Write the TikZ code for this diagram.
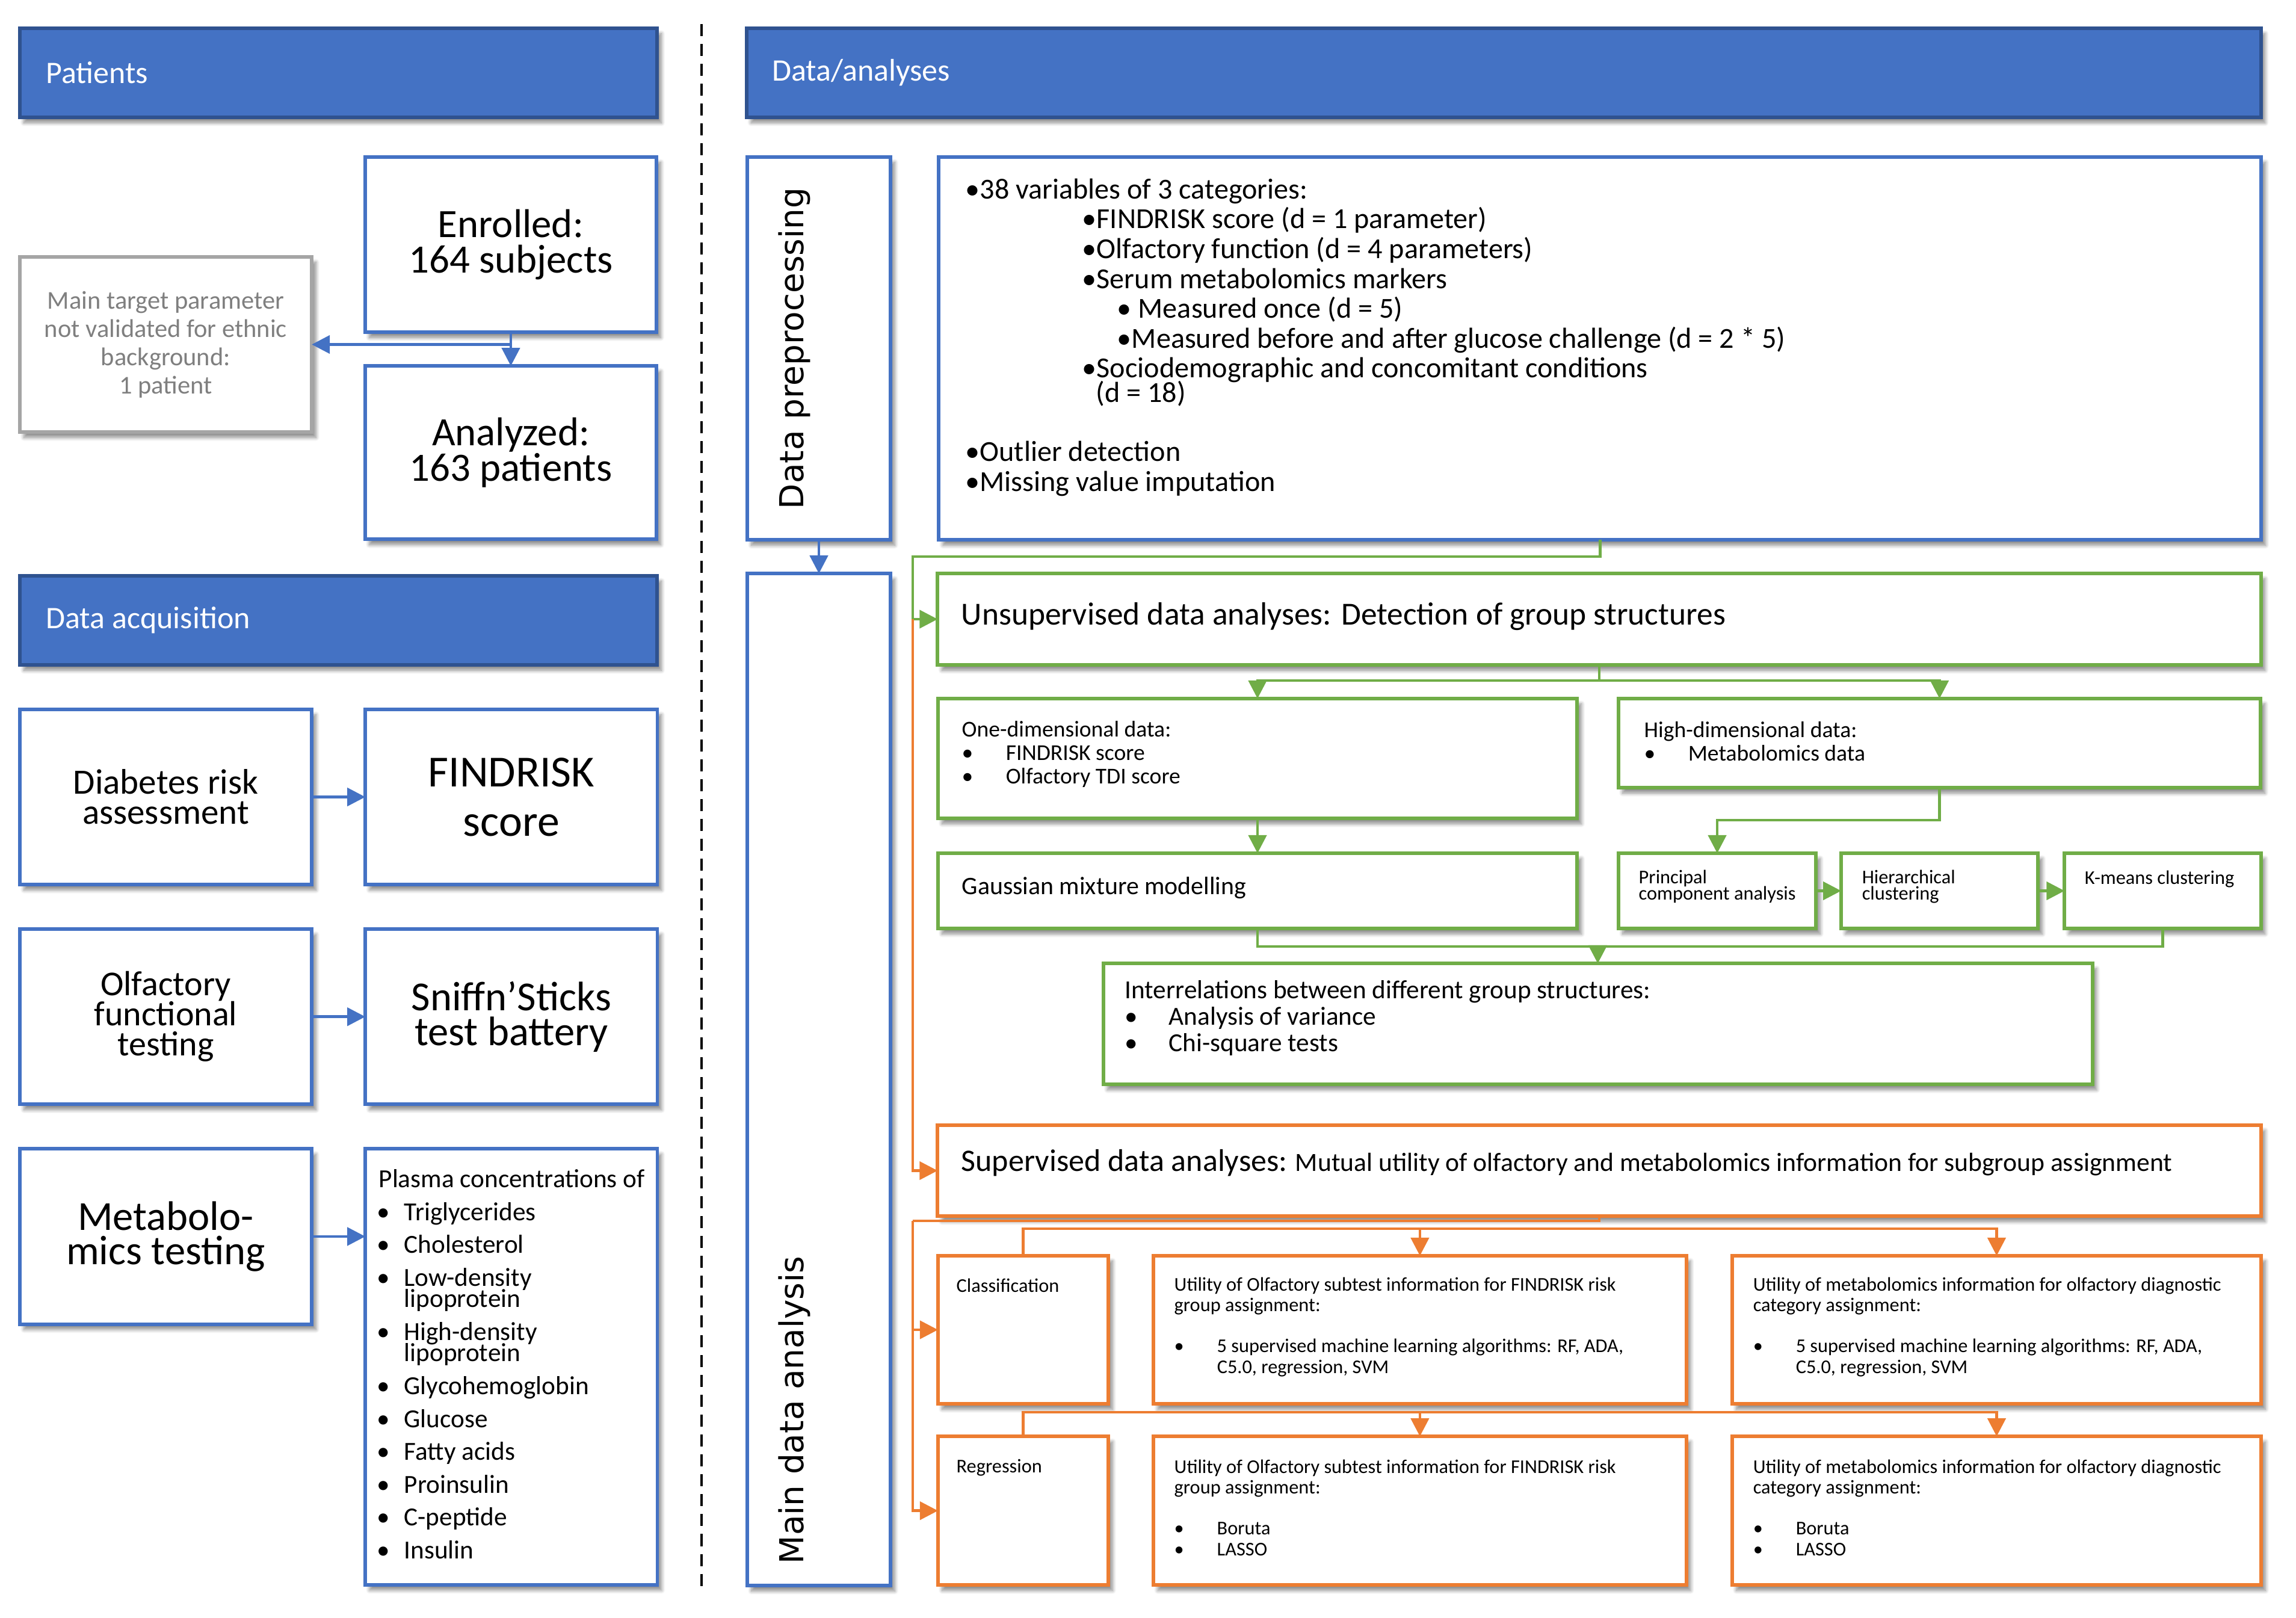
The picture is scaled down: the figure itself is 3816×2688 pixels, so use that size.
\documentclass[tikz,border=0pt]{standalone}
\usepackage{fontspec}
\setmainfont{Carlito}
\newfontfamily\sidefont{DejaVu Sans}
\usetikzlibrary{arrows.meta,positioning,shadows.blur}
\definecolor{hdrblue}{HTML}{4472C4}
\definecolor{hdrline}{HTML}{2F528F}
\definecolor{boxblue}{HTML}{4472C4}
\definecolor{boxgreen}{HTML}{70AD47}
\definecolor{boxorange}{HTML}{ED7D31}
\definecolor{boxgray}{HTML}{A5A5A5}
\definecolor{txtgray}{HTML}{7F7F7F}
\newcommand{\itembul}[1]{\makebox[#1][l]{•}}
\newcommand{\setfs}[2]{\fontsize{#1}{#2}\selectfont}
\lineskiplimit=-100pt

\begin{document}
\begin{tikzpicture}
	[x=0.01cm, y=-0.01cm, inner sep=0pt,
	boxshadow/.style	= {blur shadow={shadow xshift=0.07cm, shadow yshift=-0.09cm, shadow blur steps=8, shadow blur radius=0.06cm, shadow opacity=45}},
	hdr/.style			= {draw=hdrline, fill=hdrblue, line width=1.7pt, outer sep=0pt, minimum width=10.59cm, minimum height=1.48cm, boxshadow},
	hdrtext/.style		= {white, font=\setfs{14.8}{17}},
	box/.style			= {draw=boxblue, fill=white, line width=1.7pt, outer sep=0pt, align=center, boxshadow},
	gbox/.style			= {box, draw=boxgreen},
	obox/.style			= {box, draw=boxorange},
	xbox/.style			= {box, draw=boxgray, text=txtgray},
	cell/.style			= {minimum width=4.85cm, minimum height=2.91cm},
	txt/.style			= {anchor=base west, align=left},
	sidetext/.style		= {rotate=90, font=\sidefont\setfs{15.6}{18}},
	link/.style			= {line width=1.3pt, -{Triangle[length=0.3cm, width=0.3cm]}},
	blink/.style		= {link, draw=boxblue},
	glink/.style		= {link, draw=boxgreen},
	olink/.style		= {link, draw=boxorange},
	divider/.style		= {draw=black, line width=1.1pt, dash pattern=on 0.2cm off 0.13cm}]

	\useasboundingbox (0,0) rectangle (3816,2688);

	% patients
	\node [hdr]		at (562.5,121)					(hpat)	{};
	\node [hdrtext]	[right=0.43cm of hpat.west]		(tpat)	{Patients};
	\node [box, minimum width=4.84cm, minimum height=2.91cm, font=\setfs{19}{16.8}]	at (849,406.5)	(enr)	{Enrolled:\\164 subjects};
	\node [box, minimum width=4.84cm, minimum height=2.88cm, font=\setfs{19}{16.8}]	[below=0.56cm of enr]	(ana)	{Analyzed:\\163 patients};
	\node [xbox, cell, font=\setfs{12.1}{13.4}]	at (275.5,572.5)	(excl)	{Main target parameter\\not validated for ethnic\\background:\\1 patient};
	\coordinate (esplit) at (enr.south |- excl.east);

	% data acquisition
	\node [hdr]		at (562.5,1031)					(hacq)	{};
	\node [hdrtext]	[right=0.43cm of hacq.west]		(tacq)	{Data acquisition};
	\node [box, cell, font=\setfs{16.8}{14.2}]	at (275.5,1324.5)			(diab)	{Diabetes risk\\assessment};
	\node [box, cell, font=\setfs{21}{23.3}]	[right=0.89cm of diab]		(find)	{FINDRISK\\score};
	\node [box, cell, font=\setfs{16.5}{14.2}]	[below=0.74cm of diab]		(olf)	{Olfactory\\functional\\testing};
	\node [box, cell, font=\setfs{19.5}{16.5}]	[right=0.89cm of olf]		(sniff)	{Sniffn’Sticks\\test battery};
	\node [box, cell, font=\setfs{19.5}{16.2}]	[below=0.74cm of olf]		(metab)	{Metabolo-\\mics testing};
	\node [box, minimum width=4.85cm, minimum height=7.24cm]	[right=0.89cm of metab.north east, anchor=north west]	(plasma)	{};
	\node [txt, font=\setfs{12.3}{15.5}]	at (626,2590)	(tplasma)	{\hspace*{0.03cm}Plasma concentrations of\\
		\itembul{0.45cm}Triglycerides\\
		\itembul{0.45cm}Cholesterol\\
		\itembul{0.45cm}Low-density\\[-5.4pt]
		\hspace*{0.45cm}lipoprotein\\
		\itembul{0.45cm}High-density\\[-5.4pt]
		\hspace*{0.45cm}lipoprotein\\
		\itembul{0.45cm}Glycohemoglobin\\
		\itembul{0.45cm}Glucose\\
		\itembul{0.45cm}Fatty acids\\
		\itembul{0.45cm}Proinsulin\\
		\itembul{0.45cm}C-peptide\\
		\itembul{0.45cm}Insulin};

	\draw [divider] (1166,40) -- (1166,2645);

	% data/analyses
	\node [hdr, minimum width=25.15cm]	at (2499.5,121)		(hdat)	{};
	\node [hdrtext]	[right=0.41cm of hdat.west]			(tdat)	{Data/analyses};
	\node [box, minimum width=2.38cm, minimum height=6.36cm]	at (1361,579)			(prep)	{};
	\node [sidetext]	at (1320,579)										(tprep)	{Data preprocessing};
	\node [box, minimum width=21.97cm, minimum height=6.36cm]	[right=0.8cm of prep]	(pre)	{};
	\node [txt, font=\setfs{13.7}{14.1}]	at (1604,816)	(tpre)	{•38 variables of 3 categories:\\
		\hspace*{1.94cm}•FINDRISK score (d = 1 parameter)\\
		\hspace*{1.94cm}•Olfactory function (d = 4 parameters)\\
		\hspace*{1.94cm}•Serum metabolomics markers\\
		\hspace*{2.52cm}• Measured once (d = 5)\\
		\hspace*{2.52cm}•Measured before and after glucose challenge (d = 2 * 5)\\
		\hspace*{1.94cm}•Sociodemographic and concomitant conditions\\[-2.6pt]
		\hspace*{2.17cm}(d = 18)\\[13.8pt]
		•Outlier detection\\
		•Missing value imputation};
	\node [box, minimum width=2.38cm, minimum height=16.81cm]	[below=0.56cm of prep]	(mda)	{};
	\node [sidetext, anchor=west]	at (1320,2600)							(tmda)	{Main data analysis};

	% unsupervised
	\node [gbox, minimum width=21.98cm, minimum height=1.52cm]	at (2658,1029)		(unsup)	{};
	\node [txt, font=\setfs{15.2}{17}]	at (1597,1038)		(tunsup)	{Unsupervised data analyses: Detection of group structures};
	\node [gbox, minimum width=10.62cm, minimum height=1.99cm]	at (2090,1260.5)	(onedim)	{};
	\node [txt, font=\setfs{10.7}{11}]	at (1598,1302)		(tonedim)	{One-dimensional data:\\
		\itembul{0.73cm}FINDRISK score\\
		\itembul{0.73cm}Olfactory TDI score};
	\node [gbox, minimum width=10.67cm, minimum height=1.48cm]	at (3223.5,1235)	(highdim)	{};
	\node [txt, font=\setfs{10.7}{11}]	at (2732,1264)		(thighdim)	{High-dimensional data:\\
		\itembul{0.73cm}Metabolomics data};
	\node [gbox, minimum width=10.62cm, minimum height=1.25cm]	at (2090,1480.5)	(gmm)	{};
	\node [txt, font=\setfs{11.9}{14}]		at (1598,1486)		(tgmm)	{Gaussian mixture modelling};
	\node [gbox, minimum width=3.28cm, minimum height=1.25cm]	at (2854,1480.5)	(pca)	{};
	\node [gbox, minimum width=3.27cm, minimum height=1.25cm]	[right=0.42cm of pca]	(hier)	{};
	\node [gbox, minimum width=3.26cm, minimum height=1.25cm]	[right=0.44cm of hier]	(kmeans)	{};
	\node [txt, font=\setfs{9.2}{7.5}]	at (2723,1495)		(tpca)	{Principal\\component analysis};
	\node [txt, font=\setfs{9.2}{7.5}]	at (3094,1495)		(thier)	{Hierarchical\\clustering};
	\node [txt, font=\setfs{9.2}{7.5}]	at (3464,1469)		(tkmeans)	{K-means clustering};
	\node [gbox, minimum width=16.43cm, minimum height=2.01cm]	at (2655.5,1701.5)	(inter)	{};
	\node [txt, font=\setfs{12.3}{12.4}]	at (1869,1747)		(tinter)	{Interrelations between different group structures:\\
		\itembul{0.73cm}Analysis of variance\\
		\itembul{0.73cm}Chi-square tests};

	% supervised
	\node [obox, minimum width=21.98cm, minimum height=1.51cm]	at (2658,1945.5)	(sup)	{};
	\node [txt, font=\setfs{12.4}{15}]	at (1597,1946)		(tsup)	{{\setfs{14.8}{17}Supervised data analyses:} Mutual utility of olfactory and metabolomics information for subgroup assignment};
	\node [obox, minimum width=2.83cm, minimum height=2.46cm]	at (1700.5,2210)		(class)	{};
	\node [obox, minimum width=8.85cm, minimum height=2.46cm]	[right=0.75cm of class]	(cu1)	{};
	\node [obox, minimum width=8.79cm, minimum height=2.46cm]	[right=0.76cm of cu1]	(cu2)	{};
	\node [obox, minimum width=2.83cm, minimum height=2.47cm]	[below=0.54cm of class]	(regr)	{};
	\node [obox, minimum width=8.85cm, minimum height=2.47cm]	[right=0.75cm of regr]	(ru1)	{};
	\node [obox, minimum width=8.79cm, minimum height=2.47cm]	[right=0.76cm of ru1]	(ru2)	{};
	\node [txt, font=\setfs{9.2}{9.7}]	at (1589,2147)	(tclass)	{Classification};
	\node [txt, font=\setfs{9.2}{9.7}]	at (1951,2282)	(tcu1)	{Utility of Olfactory subtest information for FINDRISK risk\\
		group assignment:\\[9.7pt]
		\itembul{0.71cm}5 supervised machine learning algorithms: RF, ADA,\\
		\hspace*{0.71cm}C5.0, regression, SVM};
	\node [txt, font=\setfs{9.2}{9.7}]	at (2913,2282)	(tcu2)	{Utility of metabolomics information for olfactory diagnostic\\
		category assignment:\\[9.7pt]
		\itembul{0.71cm}5 supervised machine learning algorithms: RF, ADA,\\
		\hspace*{0.71cm}C5.0, regression, SVM};
	\node [txt, font=\setfs{9.2}{9.7}]	at (1589,2447)	(tregr)	{Regression};
	\node [txt, font=\setfs{9.2}{9.7}]	at (1951,2585)	(tru1)	{Utility of Olfactory subtest information for FINDRISK risk\\
		group assignment:\\[9.7pt]
		\itembul{0.71cm}Boruta\\
		\itembul{0.71cm}LASSO};
	\node [txt, font=\setfs{9.2}{9.7}]	at (2913,2585)	(tru2)	{Utility of metabolomics information for olfactory diagnostic\\
		category assignment:\\[9.7pt]
		\itembul{0.71cm}Boruta\\
		\itembul{0.71cm}LASSO};

	\coordinate (gsplit) at (1517,1029);
	\coordinate (osplit) at (1517,2029);

	% left connectors
	\draw [blink] (enr) -- (ana);
	\draw [blink] (esplit) -- (excl.east);
	\draw [blink] (diab) -- (find);
	\draw [blink] (olf) -- (sniff);
	\draw [blink] (metab.east) -- (metab.east -| plasma.west);

	% right connectors
	\draw [blink] (prep) -- (mda);
	\draw [glink] (pre.south) -- ++(0,28) -| (gsplit) -- (unsup.west);
	\draw [olink] (gsplit) |- (sup.west);
	\draw [glink] (unsup.south) -- ++(0,26) -| (onedim.north);
	\draw [glink] (unsup.south) -- ++(0,26) -| (highdim.north);
	\draw [glink] (onedim) -- (gmm);
	\draw [glink] (highdim.south) -- ++(0,54) -| (pca.north);
	\draw [glink] (pca) -- (hier);
	\draw [glink] (hier) -- (kmeans);
	\draw [glink] (gmm.south) -- ++(0,30) -| (inter.north);
	\draw [glink] (kmeans.south) -- ++(0,30) -| (inter.north);
	\draw [olink, -] (sup.south) |- (osplit);
	\draw [olink] (osplit) |- (class.west);
	\draw [olink] (osplit) |- (regr.west);
	\draw [olink] (class.north) -- ++(0,-45) -| (cu1.north);
	\draw [olink] (class.north) -- ++(0,-45) -| (cu2.north);
	\draw [olink] (regr.north) -- ++(0,-40) -| (ru1.north);
	\draw [olink] (regr.north) -- ++(0,-40) -| (ru2.north);
\end{tikzpicture}
\end{document}
